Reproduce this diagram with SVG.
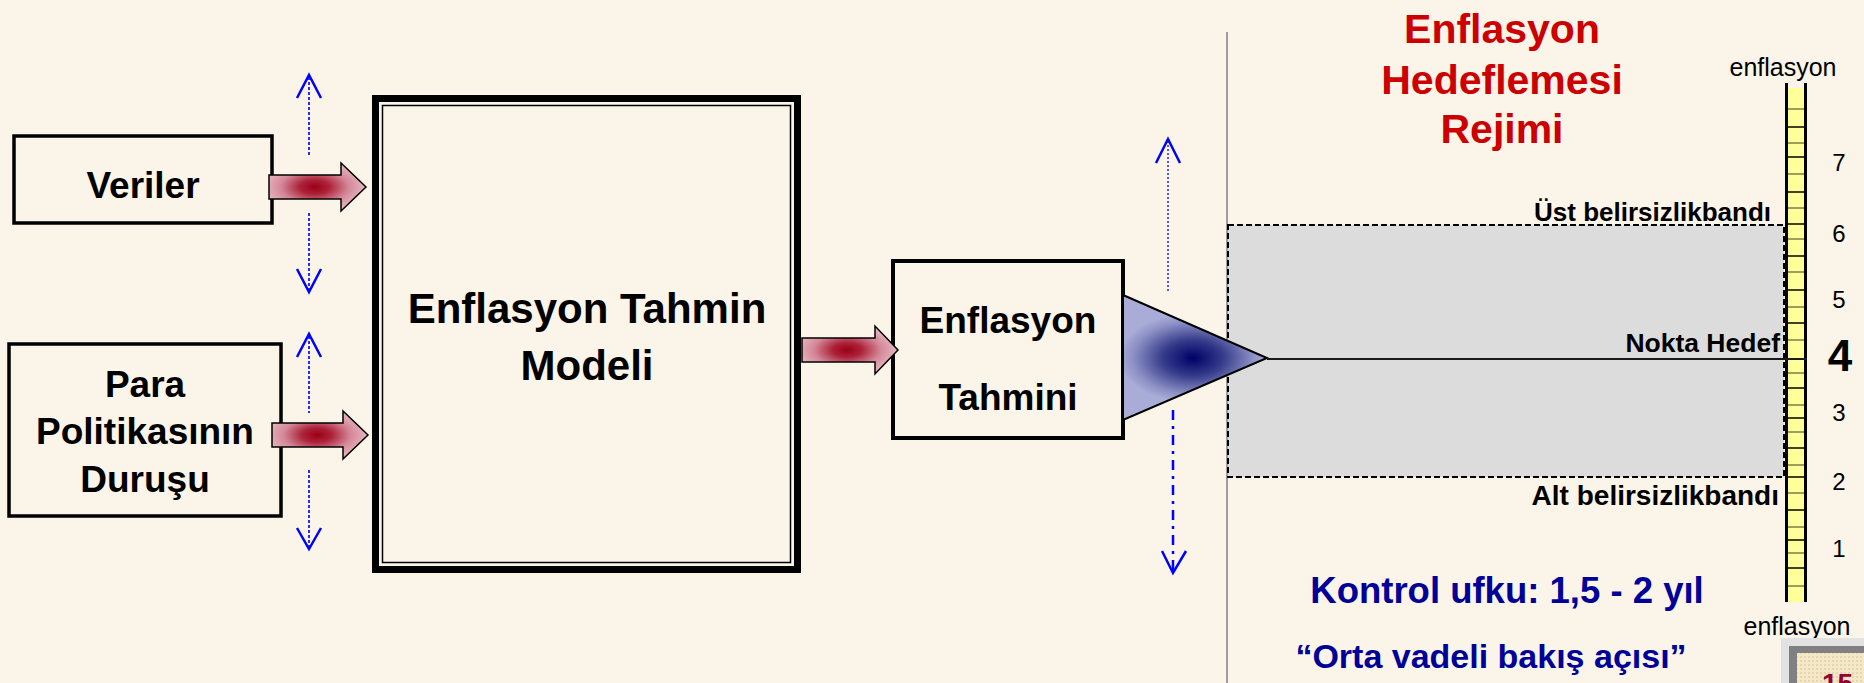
<svg xmlns="http://www.w3.org/2000/svg" width="1864" height="683" viewBox="0 0 1864 683">
<defs>
<style>
.bg{fill:#faf4e9}
.box{fill:#faf4e9;stroke:#000;stroke-width:4}
.lbl{font-family:"Liberation Sans",Arial,sans-serif;font-weight:bold;fill:#000;text-anchor:middle}
.reg{font-family:"Liberation Sans",Arial,sans-serif;fill:#000;text-anchor:middle}
.end{text-anchor:end}
.arr{stroke:#000;stroke-width:1.5;fill:url(#redG)}
.dot{fill:none;stroke:#2b2bff;stroke-width:2;stroke-dasharray:3 2}
.head{fill:none;stroke:#0000ff;stroke-width:2.5}
.tick{stroke:#000;stroke-width:1.5}
.tick2{stroke:#7c7c48;stroke-width:1.5}
</style>
<radialGradient id="redG" cx="0.47" cy="0.5" r="0.5">
<stop offset="0" stop-color="#9c0016"/>
<stop offset="0.3" stop-color="#ac2238"/>
<stop offset="0.7" stop-color="#d4889a"/>
<stop offset="1" stop-color="#e4b0ba"/>
</radialGradient>
<radialGradient id="triG" gradientUnits="userSpaceOnUse" cx="1193" cy="358" r="74" gradientTransform="translate(1193 358) scale(1 0.6) translate(-1193 -358)">
<stop offset="0" stop-color="#000066"/>
<stop offset="0.4" stop-color="#353a8a"/>
<stop offset="0.8" stop-color="#8a8ec4"/>
<stop offset="1" stop-color="#a8acd6"/>
</radialGradient>
<pattern id="dots" width="4" height="4" patternUnits="userSpaceOnUse">
<rect width="4" height="4" fill="#f4e8c8"/>
<rect width="2" height="2" fill="#e6d6ae"/>
</pattern>
</defs>
<rect class="bg" x="0" y="0" width="1864" height="683"/>

<g id="separator">
<line x1="1227" y1="32" x2="1227" y2="683" stroke="#808080" stroke-width="1.5"/>
</g>
<g id="band">
<rect x="1228" y="225" width="556" height="252" fill="#dcdcdc" stroke="#000" stroke-width="2" stroke-dasharray="6 3"/>
<text class="lbl end" x="1771" y="221" font-size="26">Üst belirsizlikbandı</text>
<text class="lbl end" x="1779" y="505" font-size="28">Alt belirsizlikbandı</text>
<text class="lbl end" x="1780" y="352" font-size="26.5">Nokta Hedef</text>
</g>

<g id="title">
<text class="lbl" x="1502" y="43" font-size="41" style="fill:#cc0000">Enflasyon</text>
<text class="lbl" x="1502" y="94" font-size="41" style="fill:#cc0000">Hedeflemesi</text>
<text class="lbl" x="1502" y="143" font-size="41" style="fill:#cc0000">Rejimi</text>
</g>

<g id="ruler">
<rect x="1788" y="88" width="16" height="514" fill="#ffff99"/>
<g>
<line class="tick2" x1="1788" x2="1804" y1="109" y2="109"/>
<line class="tick" x1="1788" x2="1804" y1="127" y2="127"/>
<line class="tick2" x1="1788" x2="1804" y1="143" y2="143"/>
<line class="tick" x1="1788" x2="1804" y1="157" y2="157"/>
<line class="tick2" x1="1788" x2="1804" y1="174" y2="174"/>
<line class="tick" x1="1788" x2="1804" y1="192" y2="192"/>
<line class="tick2" x1="1788" x2="1804" y1="208" y2="208"/>
<line class="tick" x1="1788" x2="1804" y1="224" y2="224"/>
<line class="tick2" x1="1788" x2="1804" y1="239" y2="239"/>
<line class="tick" x1="1788" x2="1804" y1="256" y2="256"/>
<line class="tick2" x1="1788" x2="1804" y1="272" y2="272"/>
<line class="tick" x1="1788" x2="1804" y1="290" y2="290"/>
<line class="tick2" x1="1788" x2="1804" y1="307" y2="307"/>
<line class="tick" x1="1788" x2="1804" y1="323" y2="323"/>
<line class="tick2" x1="1788" x2="1804" y1="340" y2="340"/>
<line class="tick2" x1="1788" x2="1804" y1="373" y2="373"/>
<line class="tick" x1="1788" x2="1804" y1="388" y2="388"/>
<line class="tick2" x1="1788" x2="1804" y1="405" y2="405"/>
<line class="tick" x1="1788" x2="1804" y1="418" y2="418"/>
<line class="tick2" x1="1788" x2="1804" y1="432" y2="432"/>
<line class="tick" x1="1788" x2="1804" y1="448" y2="448"/>
<line class="tick2" x1="1788" x2="1804" y1="465" y2="465"/>
<line class="tick" x1="1788" x2="1804" y1="477" y2="477"/>
<line class="tick2" x1="1788" x2="1804" y1="493" y2="493"/>
<line class="tick" x1="1788" x2="1804" y1="510" y2="510"/>
<line class="tick2" x1="1788" x2="1804" y1="527" y2="527"/>
<line class="tick" x1="1788" x2="1804" y1="540" y2="540"/>
<line class="tick2" x1="1788" x2="1804" y1="553" y2="553"/>
<line class="tick" x1="1788" x2="1804" y1="568" y2="568"/>
<line class="tick2" x1="1788" x2="1804" y1="586" y2="586"/>
</g>
<line x1="1786.5" y1="83" x2="1786.5" y2="602" stroke="#000" stroke-width="3"/>
<line x1="1805.5" y1="83" x2="1805.5" y2="602" stroke="#000" stroke-width="3"/>
<text class="reg" x="1783" y="76" font-size="25">enflasyon</text>
<text class="reg" x="1797" y="635" font-size="25">enflasyon</text>
<text class="reg" x="1839" y="171" font-size="24">7</text>
<text class="reg" x="1839" y="242" font-size="24">6</text>
<text class="reg" x="1839" y="308" font-size="24">5</text>
<text class="lbl" x="1840" y="371" font-size="44">4</text>
<text class="reg" x="1839" y="421" font-size="24">3</text>
<text class="reg" x="1839" y="490" font-size="24">2</text>
<text class="reg" x="1839" y="557" font-size="24">1</text>
</g>

<g id="horizon-text">
<text class="lbl" x="1507" y="603" font-size="36.5" style="fill:#000099">Kontrol ufku: 1,5 - 2 yıl</text>
<text class="lbl" x="1491" y="668" font-size="34" style="fill:#000099">“Orta vadeli bakış açısı”</text>
</g>

<g id="page-number">
<rect x="1781" y="638" width="100" height="60" fill="#e2e2e2"/>
<rect x="1789" y="646" width="90" height="50" fill="#808080"/>
<rect x="1797" y="653" width="80" height="40" fill="url(#dots)"/>
<text class="lbl" x="1822" y="693" font-size="28" style="fill:#990033;text-anchor:start">15</text>
</g>

<g id="node-veriler">
<rect class="box" x="14" y="136" width="258" height="87" style="stroke-width:3.5"/>
<text class="lbl" x="143" y="198" font-size="37">Veriler</text>
</g>
<g id="node-para">
<rect class="box" x="9" y="344" width="272" height="172" style="stroke-width:3.5"/>
<text class="lbl" x="145" y="397" font-size="37">Para</text>
<text class="lbl" x="145" y="444" font-size="37">Politikasının</text>
<text class="lbl" x="145" y="492" font-size="37">Duruşu</text>
</g>
<g id="node-model">
<rect x="375.5" y="98.5" width="422" height="471" fill="#faf4e9" stroke="#000" stroke-width="7"/>
<rect x="382.5" y="105.5" width="408" height="457" fill="none" stroke="#000" stroke-width="1.5"/>
<text class="lbl" x="587" y="323" font-size="42">Enflasyon Tahmin</text>
<text class="lbl" x="587" y="380" font-size="42">Modeli</text>
</g>
<g id="node-tahmin">
<rect class="box" x="893" y="261" width="230" height="177"/>
<text class="lbl" x="1008" y="333" font-size="37">Enflasyon</text>
<text class="lbl" x="1008" y="410" font-size="37">Tahmini</text>
</g>

<g id="connectors">
<path class="arr" d="M269,175 H341 V163 L366,187 L341,211 V199 H269 Z"/>
<path class="arr" d="M272,423 H343 V411 L368,435 L343,459 V447 H272 Z"/>
<path class="arr" d="M802,338 H875 V326 L898,350 L875,374 V362 H802 Z"/>
<path d="M1123,295 L1267,358 L1123,420 Z" fill="url(#triG)" stroke="#000" stroke-width="2"/>
<line x1="1267" y1="359" x2="1807" y2="359" stroke="#1a1a1a" stroke-width="2"/>
<line class="dot" x1="309" y1="77" x2="309" y2="155"/>
<polyline class="head" points="297,98 309,75 321,98"/>
<line class="dot" x1="309" y1="213" x2="309" y2="290"/>
<polyline class="head" points="297,269 309,292 321,269"/>
<line class="dot" x1="309" y1="336" x2="309" y2="413"/>
<polyline class="head" points="297,357 309,334 321,357"/>
<line class="dot" x1="309" y1="470" x2="309" y2="547"/>
<polyline class="head" points="297,528 309,549 321,528"/>
<line x1="1168" y1="141" x2="1168" y2="292" stroke="#5555ff" stroke-width="2" stroke-dasharray="2 2"/>
<polyline class="head" points="1156,163 1168,139 1180,163"/>
<line x1="1173" y1="410" x2="1173" y2="571" stroke="#0000ff" stroke-width="2.5" stroke-dasharray="10 6 3 6"/>
<polyline class="head" points="1162,551 1173,573 1186,551"/>
</g>
</svg>
